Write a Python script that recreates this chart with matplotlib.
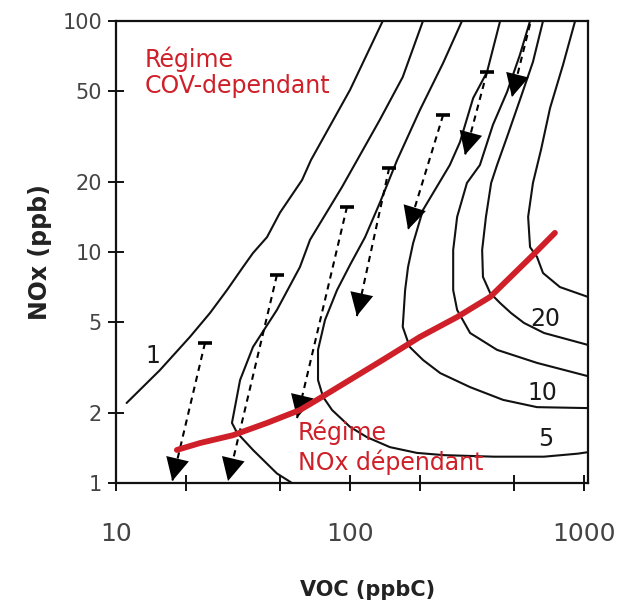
import matplotlib
matplotlib.use("Agg")
import matplotlib.pyplot as plt
from matplotlib.patches import ArrowStyle

# ---- data (VOC in ppbC, NOx in ppb) ----
iso1_voc = [11.1, 15.4, 20.7, 25.2, 29.8, 34.9, 38.5, 44.2, 50.2, 62.4, 68.1, 100, 138]
iso1_nox = [2.22, 3.08, 4.29, 5.44, 6.84, 8.61, 9.9, 11.6, 14.8, 20.5, 25.0, 50.3, 100]

iso2_voc = [205, 168, 134, 113.6, 92.4, 67.5, 61.1, 48.7, 38.5, 33.9, 31.3, 32.9, 38.5, 48.7, 56.5]
iso2_nox = [100, 57.2, 37.3, 27.7, 19.1, 11.3, 8.61, 5.61, 3.88, 2.79, 1.82, 1.65, 1.39, 1.10, 1.0]

iso5_voc = [301, 250, 199, 159, 134, 116, 100, 88.0, 78.2, 73.0, 73.0, 76.7, 83.8, 100, 118, 148,
            193, 252, 412, 675, 942, 1040]
iso5_nox = [100, 65.8, 41.2, 25.0, 16.3, 11.6, 8.79, 6.84, 5.08, 3.77, 2.79, 2.36, 2.07, 1.75, 1.58,
            1.43, 1.35, 1.32, 1.30, 1.30, 1.34, 1.36]

iso10_voc = [438, 385, 336, 295, 267, 205, 186, 177, 172, 168, 180, 205, 243, 326, 451, 630, 1040]
iso10_nox = [100, 60.1, 46.4, 29.9, 23.8, 15.2, 10.9, 8.61, 6.84, 4.74, 3.88, 3.41, 2.99, 2.60, 2.29,
             2.13, 2.11]

iso15_voc = [588, 532, 469, 408, 359, 316, 287, 276, 276, 287, 326, 425, 630, 1040]
iso15_nox = [100, 71.3, 49.3, 35.5, 23.8, 19.9, 14.2, 10.2, 6.84, 5.61, 4.46, 3.77, 3.31, 2.90]

iso20_voc = [668, 605, 532, 469, 425, 401, 381, 367, 370, 397, 438, 488, 554, 675, 1040]
iso20_nox = [100, 66.5, 45.5, 31.5, 23.8, 19.9, 14.2, 10.2, 7.80, 6.65, 6.01, 5.44, 4.93, 4.46, 3.96]

iso30_voc = [916, 813, 716, 655, 605, 577, 588, 630, 668, 789, 1040]
iso30_nox = [100, 64.5, 42.0, 27.7, 19.9, 14.2, 10.5, 9.51, 8.11, 7.05, 6.39]

ridge_voc = [18.2, 22.9, 31.6, 44.2, 61.1, 72.3, 138, 199, 287, 397, 605, 751]
ridge_nox = [1.39, 1.49, 1.61, 1.82, 2.07, 2.29, 3.41, 4.29, 5.23, 6.39, 9.70, 12.1]

arrow_start_voc = [24.0, 48.7, 97.1, 147, 250, 385, 588]
arrow_start_nox = [4.04, 7.94, 15.7, 23.1, 39.2, 60.1, 97]
arrow_end_voc = [17.4, 30.1, 59.4, 107, 177, 310, 492]
arrow_end_nox = [1.02, 1.02, 1.91, 5.28, 12.5, 26.3, 46.9]
arrow_has_bar = [True, True, True, True, True, True, False]

iso_label_text = ["1", "20", "10", "5"]
iso_label_voc = [14.4, 681, 662, 688]
iso_label_nox = [3.55, 5.13, 2.45, 1.55]

x_ticks = [10, 20, 50, 100, 200, 500, 1000]
x_tick_labels = ["10", "", "", "100", "", "", "1000"]
y_ticks = [1, 2, 5, 10, 20, 50, 100]
y_tick_labels = ["1", "2", "5", "10", "20", "50", "100"]

RED = "#cf1f28"
INK = "#111111"

fig = plt.figure(figsize=(6.22, 6.05), dpi=100)
ax = fig.add_axes([116 / 622, 1 - 483 / 605, 472 / 622, 462 / 605])
ax.set_xscale("log")
ax.set_yscale("log")
ax.set_xlim(10, 1040)
ax.set_ylim(1, 100)

isos = [(iso1_voc, iso1_nox), (iso2_voc, iso2_nox), (iso5_voc, iso5_nox), (iso10_voc, iso10_nox),
        (iso15_voc, iso15_nox), (iso20_voc, iso20_nox), (iso30_voc, iso30_nox)]
for xv, yv in isos:
    ax.plot(xv, yv, color=INK, lw=1.5, solid_joinstyle="round", solid_capstyle="round",
            clip_on=True, zorder=2)

# arrows: dashed shaft + filled solid head, with a bar at the start
style = ArrowStyle("-|>", head_length=0.75, head_width=0.38)
for xs, ys, xe, ye, bar in zip(arrow_start_voc, arrow_start_nox, arrow_end_voc, arrow_end_nox,
                               arrow_has_bar):
    ax.plot([xs, xe], [ys, ye], color="black", lw=1.5, linestyle=(0, (3, 2.4)), zorder=3)
    ax.annotate("", xy=(xe, ye), xytext=(xs, ys),
                arrowprops=dict(arrowstyle=style, mutation_scale=22, facecolor="black",
                                edgecolor="black", lw=0.0, shrinkA=0, shrinkB=0),
                zorder=3)
    if bar:
        ax.plot([xs], [ys], marker="_", markersize=10, mew=2.6, color="black", zorder=3)

# ridge line
ax.plot(ridge_voc, ridge_nox, color=RED, lw=4.2, solid_capstyle="round", zorder=4)

# isopleth labels
for t, xv, yv in zip(iso_label_text, iso_label_voc, iso_label_nox):
    ax.text(xv, yv, t, ha="center", va="center", fontsize=17, color="#1a1a1a", zorder=5)

# regime annotations
ax.text(0.0614, 0.900, "Régime", transform=ax.transAxes, color=RED, fontsize=17,
        ha="left", va="baseline", zorder=5)
ax.text(0.0614, 0.844, "COV-dependant", transform=ax.transAxes, color=RED, fontsize=17,
        ha="left", va="baseline", zorder=5)
ax.text(0.3856, 0.093, "Régime", transform=ax.transAxes, color=RED, fontsize=17,
        ha="left", va="baseline", zorder=5)
ax.text(0.3856, 0.028, "NOx dépendant", transform=ax.transAxes, color=RED, fontsize=17,
        ha="left", va="baseline", zorder=5)

# axes styling
ax.xaxis.set_major_locator(matplotlib.ticker.FixedLocator(x_ticks))
ax.xaxis.set_major_formatter(matplotlib.ticker.FixedFormatter(x_tick_labels))
ax.yaxis.set_major_locator(matplotlib.ticker.FixedLocator(y_ticks))
ax.yaxis.set_major_formatter(matplotlib.ticker.FixedFormatter(y_tick_labels))
ax.xaxis.set_minor_locator(matplotlib.ticker.NullLocator())
ax.yaxis.set_minor_locator(matplotlib.ticker.NullLocator())
ax.tick_params(axis="both", direction="inout", length=12, width=1.4, color=INK)
ax.tick_params(axis="x", pad=22, labelsize=18, labelcolor="#444444")
ax.tick_params(axis="y", pad=4, labelsize=15, labelcolor="#444444")
for s in ax.spines.values():
    s.set_linewidth(1.6)
    s.set_color(INK)

ax.set_xlabel("VOC (ppbC)", fontsize=15, fontweight="bold", color="#222222")
ax.xaxis.set_label_coords(0.534, -0.232)
ax.xaxis.label.set_va("center")
ax.set_ylabel("NOx (ppb)", fontsize=17, fontweight="bold", color="#222222")
ax.yaxis.set_label_coords(-0.161, 0.50)
ax.yaxis.label.set_va("center")

fig.savefig("out.png", dpi=100)
